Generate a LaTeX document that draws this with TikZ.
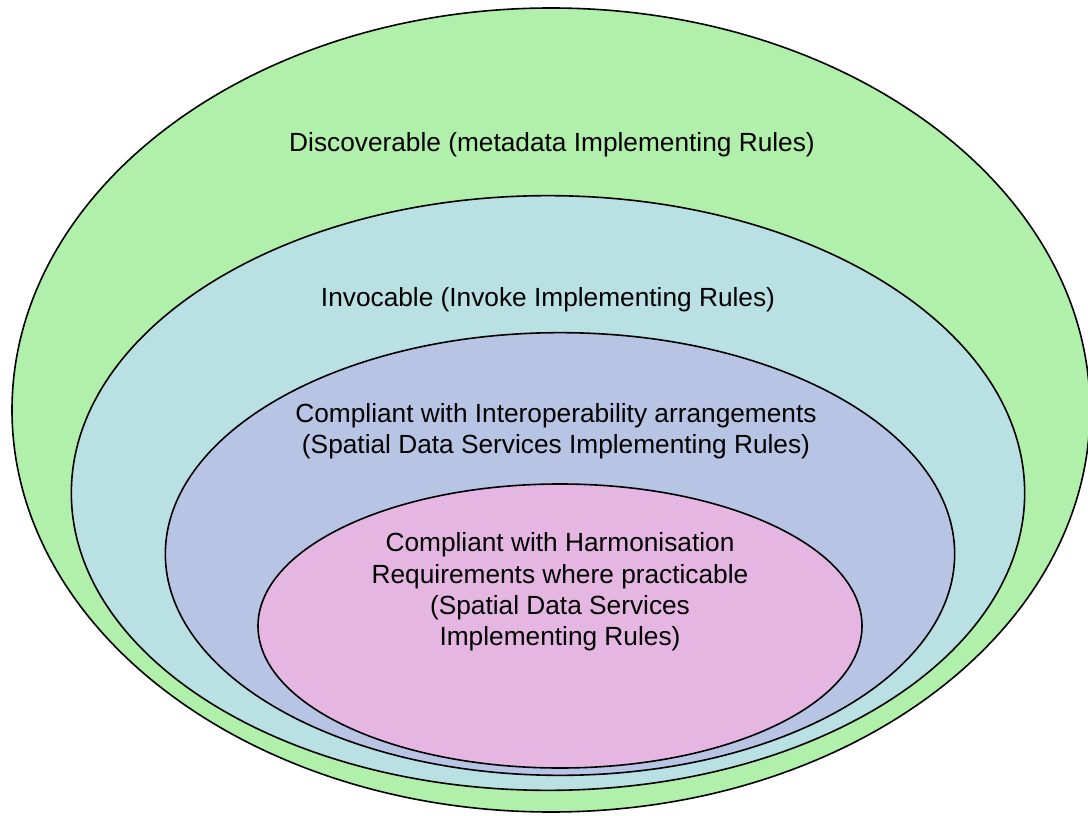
\documentclass[tikz,border=0pt]{standalone}
\usepackage{fontspec}
\setmainfont{Liberation Sans}
\usepackage{tikz}
\usepackage{xcolor}
\usetikzlibrary{shapes.geometric}
\definecolor{discovergreen}{RGB}{176,240,170}
\definecolor{invoketeal}{RGB}{185,224,227}
\definecolor{interopblue}{RGB}{184,196,228}
\definecolor{harmonpink}{RGB}{229,182,226}
\tikzset{
    ring-ellipse/.style = {ellipse, draw=black, line width=1.2pt, inner sep=0pt},
    ring-label/.style = {align=center, font=\fontsize{19.7}{23.5}\selectfont, inner sep=0pt},
}

\begin{document}
\begin{tikzpicture}[x=0.75pt, y=-0.75pt]
\useasboundingbox (0,0) rectangle (1088,816);
\node [ring-ellipse, fill=discovergreen, minimum width=808.5pt, minimum height=603pt] (discoverable) at (551,410) {};
\node [ring-ellipse, fill=invoketeal, minimum width=715pt, minimum height=446pt] (invocable) at (548,493) {};
\node [ring-ellipse, fill=interopblue, minimum width=592pt, minimum height=332pt] (interop) at (560,554) {};
\node [ring-ellipse, fill=harmonpink, minimum width=453pt, minimum height=213pt] (harmon) at (560,626) {};
\node [ring-label] (discoverable-text) at (552,145) {Discoverable (metadata Implementing Rules)};
\node [ring-label] (invocable-text) at (548,300) {Invocable (Invoke Implementing Rules)};
\node [ring-label] (interop-text) at (556,431) {Compliant with Interoperability arrangements\\(Spatial Data Services Implementing Rules)};
\node [ring-label] (harmon-text) at (560,592) {Compliant with Harmonisation\\Requirements where practicable\\(Spatial Data Services\\Implementing Rules)};
\end{tikzpicture}
\end{document}
